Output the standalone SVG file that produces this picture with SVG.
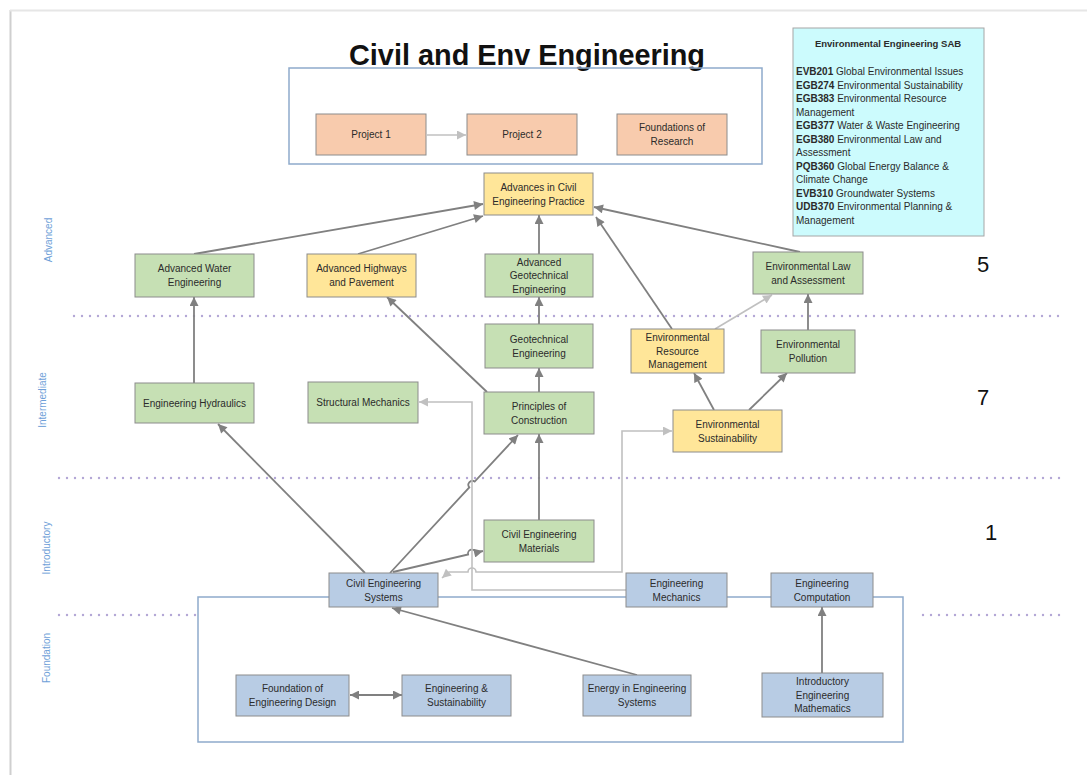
<svg xmlns="http://www.w3.org/2000/svg" width="1087" height="775" viewBox="0 0 1087 775">
<style>
text{font-family:"Liberation Sans",Arial,sans-serif;fill:#2b2b2b}
.n{font-size:10px;text-anchor:middle}
.g{fill:#c6e0b4;stroke:#8c8c8c;stroke-width:1}
.y{fill:#ffe699;stroke:#8c8c8c;stroke-width:1}
.b{fill:#b8cce4;stroke:#8c8c8c;stroke-width:1}
.p{fill:#f8cbad;stroke:#8c8c8c;stroke-width:1}
.c{fill:none;stroke:#808080;stroke-width:1.8}
.l{fill:none;stroke:#c0c0c0;stroke-width:1.6}
.dot{stroke:#b4a7d6;stroke-width:2.4;stroke-linecap:round;stroke-dasharray:0 8}
.side{font-size:10px;fill:#6f9fd8;text-anchor:middle}
.num{font-size:22px;fill:#111}
.sab{font-size:10px}
.frame{fill:none;stroke:#8eaacb;stroke-width:1.5}
</style>
<defs>
<marker id="ad" viewBox="0 0 10 10" refX="10" refY="5" markerWidth="10" markerHeight="9" markerUnits="userSpaceOnUse" orient="auto-start-reverse"><path d="M0,0 L10,5 L0,10 z" fill="#808080"/></marker>
<marker id="al" viewBox="0 0 10 10" refX="10" refY="5" markerWidth="10" markerHeight="9" markerUnits="userSpaceOnUse" orient="auto-start-reverse"><path d="M0,0 L10,5 L0,10 z" fill="#c0c0c0"/></marker>
</defs>
<rect x="0" y="0" width="1087" height="775" fill="#ffffff"/>
<g id="slide-edge">
<line x1="10.5" y1="10" x2="10.5" y2="775" stroke="#cfcfcf" stroke-width="2"/>
<line x1="10" y1="10.5" x2="1087" y2="10.5" stroke="#e6e6e6" stroke-width="2"/>
</g>
<g id="title"><text x="527" y="65" font-size="30" font-weight="bold" text-anchor="middle" textLength="356" lengthAdjust="spacingAndGlyphs" style="fill:#111">Civil and Env Engineering</text></g>
<g id="level-lines">
<line class="dot" x1="74" y1="316" x2="1066" y2="316"/>
<line class="dot" x1="59" y1="478" x2="1066" y2="478"/>
<line class="dot" x1="59" y1="615" x2="196" y2="615"/>
<line class="dot" x1="923" y1="615" x2="1066" y2="615"/>
</g>
<g id="side-labels">
<text class="side" transform="translate(52,240) rotate(-90)">Advanced</text>
<text class="side" transform="translate(46,400) rotate(-90)">Intermediate</text>
<text class="side" transform="translate(50,548) rotate(-90)">Introductory</text>
<text class="side" transform="translate(50,658) rotate(-90)">Foundation</text>
</g>
<g id="credit-points">
<text class="num" x="977" y="272">5</text>
<text class="num" x="977" y="405">7</text>
<text class="num" x="985" y="540">1</text>
</g>
<g id="project-frame"><rect class="frame" x="289" y="68" width="473" height="96" fill="none"/></g>
<g id="foundation-frame"><rect class="frame" x="198" y="597" width="705" height="145" fill="none"/></g>
<g id="sab">
<rect x="793" y="28" width="191" height="208" fill="#ccfbfd" stroke="#a6a6a6" stroke-width="1"/>
<text class="sab" x="888" y="47" text-anchor="middle" font-weight="bold" style="font-size:9.5px">Environmental Engineering SAB</text>
<text class="sab" x="796" y="75"><tspan font-weight="bold">EVB201</tspan> Global Environmental Issues</text>
<text class="sab" x="796" y="88.5"><tspan font-weight="bold">EGB274</tspan> Environmental Sustainability</text>
<text class="sab" x="796" y="102"><tspan font-weight="bold">EGB383</tspan> Environmental Resource</text>
<text class="sab" x="796" y="115.5">Management</text>
<text class="sab" x="796" y="129"><tspan font-weight="bold">EGB377</tspan> Water &amp; Waste Engineering</text>
<text class="sab" x="796" y="142.5"><tspan font-weight="bold">EGB380</tspan> Environmental Law and</text>
<text class="sab" x="796" y="156">Assessment</text>
<text class="sab" x="796" y="169.5"><tspan font-weight="bold">PQB360</tspan> Global Energy Balance &amp;</text>
<text class="sab" x="796" y="183">Climate Change</text>
<text class="sab" x="796" y="196.5"><tspan font-weight="bold">EVB310</tspan> Groundwater Systems</text>
<text class="sab" x="796" y="210"><tspan font-weight="bold">UDB370</tspan> Environmental Planning &amp;</text>
<text class="sab" x="796" y="223.5">Management</text>
</g>
<g id="connectors">
<line class="l" x1="427" y1="135" x2="466" y2="135" marker-end="url(#al)"/>
<line class="c" x1="194" y1="254" x2="483" y2="204" marker-end="url(#ad)"/>
<line class="c" x1="358" y1="254" x2="483" y2="216" marker-end="url(#ad)"/>
<line class="c" x1="539" y1="254" x2="539" y2="215" marker-end="url(#ad)"/>
<line class="c" x1="672" y1="329" x2="596" y2="217" marker-end="url(#ad)"/>
<line class="c" x1="800" y1="252" x2="594" y2="207" marker-end="url(#ad)"/>
<line class="c" x1="539" y1="324" x2="539" y2="297" marker-end="url(#ad)"/>
<line class="c" x1="539" y1="392" x2="539" y2="368" marker-end="url(#ad)"/>
<line class="c" x1="487" y1="392" x2="387" y2="297" marker-end="url(#ad)"/>
<line class="c" x1="194" y1="383" x2="194" y2="297" marker-end="url(#ad)"/>
<line class="l" x1="715" y1="329" x2="772" y2="295" marker-end="url(#al)"/>
<line class="c" x1="808" y1="330" x2="808" y2="294" marker-end="url(#ad)"/>
<line class="c" x1="714" y1="410" x2="694" y2="373" marker-end="url(#ad)"/>
<line class="c" x1="749" y1="410" x2="787" y2="373" marker-end="url(#ad)"/>
<line class="c" x1="365" y1="573" x2="218" y2="424" marker-end="url(#ad)"/>
<path class="c" d="M390,573 L469.3,487.4 A4,4 0 0 1 474.7,481.6 L518,435" marker-end="url(#ad)"/>
<path class="c" d="M393,572 L468.1,554.5 A4,4 0 0 1 475.9,552.7 L483,551" marker-end="url(#ad)"/>
<line class="c" x1="539" y1="520" x2="539" y2="434" marker-end="url(#ad)"/>
<path class="l" d="M626,590 L472,590 L472,402 L419,402" marker-end="url(#al)"/>
<path class="l" d="M442,578 L449,572 L468,572 A4,4 0 0 1 476,572 L622,572 L622,431 L672,431" marker-start="url(#al)" marker-end="url(#al)"/>
<line class="c" x1="637" y1="675" x2="392" y2="608" marker-end="url(#ad)"/>
<line class="c" x1="822" y1="673" x2="822" y2="607" marker-end="url(#ad)"/>
<line class="c" x1="350" y1="695" x2="402" y2="695" marker-start="url(#ad)" marker-end="url(#ad)"/>
</g>
<g id="project1"><rect class="p" x="316" y="114" width="110" height="41"/><text class="n" x="371" y="138">Project 1</text></g>
<g id="project2"><rect class="p" x="467" y="114" width="110" height="41"/><text class="n" x="522" y="138">Project 2</text></g>
<g id="foundations-research"><rect class="p" x="617" y="114" width="110" height="41"/><text class="n" x="672" y="131">Foundations of</text><text class="n" x="672" y="145">Research</text></g>
<g id="advances-civil"><rect class="y" x="484" y="173" width="109" height="42"/><text class="n" x="538.5" y="190.5">Advances in Civil</text><text class="n" x="538.5" y="204.5">Engineering Practice</text></g>
<g id="adv-water"><rect class="g" x="135" y="254" width="119" height="43"/><text class="n" x="194.5" y="272">Advanced Water</text><text class="n" x="194.5" y="286">Engineering</text></g>
<g id="adv-highways"><rect class="y" x="307" y="254" width="109" height="43"/><text class="n" x="361.5" y="272">Advanced Highways</text><text class="n" x="361.5" y="286">and Pavement</text></g>
<g id="adv-geotech"><rect class="g" x="485" y="254" width="108" height="43"/><text class="n" x="539" y="265.5">Advanced</text><text class="n" x="539" y="279">Geotechnical</text><text class="n" x="539" y="292.5">Engineering</text></g>
<g id="env-law"><rect class="g" x="753" y="252" width="110" height="42"/><text class="n" x="808" y="269.5">Environmental Law</text><text class="n" x="808" y="283.5">and Assessment</text></g>
<g id="geotech"><rect class="g" x="485" y="324" width="108" height="44"/><text class="n" x="539" y="342.5">Geotechnical</text><text class="n" x="539" y="356.5">Engineering</text></g>
<g id="env-resource"><rect class="y" x="631" y="329" width="93" height="44"/><text class="n" x="677.5" y="341">Environmental</text><text class="n" x="677.5" y="354.5">Resource</text><text class="n" x="677.5" y="368">Management</text></g>
<g id="env-pollution"><rect class="g" x="761" y="330" width="94" height="43"/><text class="n" x="808" y="348">Environmental</text><text class="n" x="808" y="362">Pollution</text></g>
<g id="eng-hydraulics"><rect class="g" x="135" y="383" width="119" height="40"/><text class="n" x="194.5" y="406.5">Engineering Hydraulics</text></g>
<g id="structural-mechanics"><rect class="g" x="308" y="382" width="110" height="41"/><text class="n" x="363" y="406">Structural Mechanics</text></g>
<g id="principles-construction"><rect class="g" x="484" y="392" width="110" height="42"/><text class="n" x="539" y="409.5">Principles of</text><text class="n" x="539" y="423.5">Construction</text></g>
<g id="env-sustainability"><rect class="y" x="673" y="410" width="109" height="42"/><text class="n" x="727.5" y="427.5">Environmental</text><text class="n" x="727.5" y="441.5">Sustainability</text></g>
<g id="civil-materials"><rect class="g" x="484" y="520" width="110" height="42"/><text class="n" x="539" y="537.5">Civil Engineering</text><text class="n" x="539" y="551.5">Materials</text></g>
<g id="civil-systems"><rect class="b" x="329" y="573" width="109" height="34"/><text class="n" x="383.5" y="586.5">Civil Engineering</text><text class="n" x="383.5" y="600.5">Systems</text></g>
<g id="eng-mechanics"><rect class="b" x="626" y="573" width="101" height="34"/><text class="n" x="676.5" y="586.5">Engineering</text><text class="n" x="676.5" y="600.5">Mechanics</text></g>
<g id="eng-computation"><rect class="b" x="771" y="573" width="102" height="34"/><text class="n" x="822" y="586.5">Engineering</text><text class="n" x="822" y="600.5">Computation</text></g>
<g id="foundation-design"><rect class="b" x="236" y="675" width="113" height="41"/><text class="n" x="292.5" y="692">Foundation of</text><text class="n" x="292.5" y="706">Engineering Design</text></g>
<g id="eng-sustainability"><rect class="b" x="402" y="675" width="109" height="41"/><text class="n" x="456.5" y="692">Engineering &amp;</text><text class="n" x="456.5" y="706">Sustainability</text></g>
<g id="energy-systems"><rect class="b" x="583" y="675" width="108" height="41"/><text class="n" x="637" y="692">Energy in Engineering</text><text class="n" x="637" y="706">Systems</text></g>
<g id="intro-maths"><rect class="b" x="762" y="673" width="121" height="44"/><text class="n" x="822.5" y="685">Introductory</text><text class="n" x="822.5" y="698.5">Engineering</text><text class="n" x="822.5" y="712">Mathematics</text></g>
</svg>
